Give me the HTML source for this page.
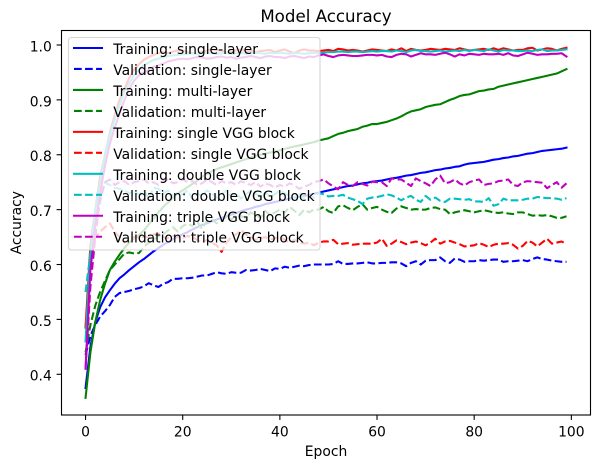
<!DOCTYPE html>
<html lang="en">
<head>
<meta charset="utf-8">
<title>Model Accuracy</title>
<style>
html,body{margin:0;padding:0;background:#fff;width:601px;height:468px;overflow:hidden}
svg{display:block;font-family:"DejaVu Sans","Liberation Sans",sans-serif;fill:#000}
</style>
</head>
<body>
<svg id="chart" xmlns="http://www.w3.org/2000/svg" width="601" height="468" viewBox="0 0 601 468">
  <text x="326" y="22" font-size="16.67" text-anchor="middle">Model Accuracy</text>
  <text x="326" y="456" font-size="13.89" text-anchor="middle">Epoch</text>
  <text transform="translate(21 222.7) rotate(-90)" font-size="13.89" text-anchor="middle">Accuracy</text>
  <g id="ticks"></g>
  <g id="series"></g>
  <rect x="61.5" y="30.5" width="529" height="384.5" fill="none" stroke="#000" stroke-width="1.1"></rect>
  <g id="legend"></g>
</svg>
<script>
const xTicks = [0, 20, 40, 60, 80, 100];
const yTicks = [0.4, 0.5, 0.6, 0.7, 0.8, 0.9, 1.0];

const trainSingle = [
.375,.45,.495,.522,.54,.553,.565,.575,.582,.59,
.597,.604,.61,.617,.624,.63,.636,.641,.646,.651,
.655,.659,.664,.668,.672,.675,.679,.682,.685,.688,
.691,.694,.697,.7,.702,.705,.707,.71,.712,.714,
.716,.718,.72,.722,.724,.725,.727,.729,.731,.733,
.735,.737,.739,.741,.743,.744,.746,.748,.749,.751,
.752,.753,.755,.757,.758,.76,.762,.763,.765,.767,
.768,.77,.772,.773,.775,.776,.778,.779,.782,.784,
.785,.786,.787,.789,.791,.792,.794,.795,.797,.798,
.8,.802,.803,.805,.807,.808,.809,.81,.811,.813];
const valSingle = [
.435,.47,.49,.505,.515,.526,.541,.548,.55,.552,
.555,.557,.56,.566,.562,.559,.565,.568,.574,.574,
.575,.575,.576,.578,.58,.58,.583,.586,.584,.583,
.586,.585,.585,.59,.589,.59,.592,.59,.588,.593,
.592,.596,.594,.596,.598,.597,.599,.6,.6,.6,
.6,.601,.606,.601,.601,.602,.602,.603,.604,.602,
.602,.603,.603,.604,.604,.602,.597,.603,.606,.6,
.607,.608,.608,.613,.606,.603,.611,.609,.605,.606,
.606,.608,.607,.608,.609,.609,.605,.606,.606,.607,
.608,.606,.61,.613,.61,.609,.607,.606,.605,.605];
const trainMulti = [
.357,.44,.495,.535,.565,.59,.605,.618,.63,.64,
.648,.654,.662,.673,.684,.695,.705,.713,.722,.73,
.735,.741,.747,.753,.76,.765,.77,.774,.777,.78,
.783,.786,.789,.792,.795,.798,.8,.802,.804,.806,
.808,.811,.813,.815,.817,.819,.821,.823,.826,.828,
.83,.834,.838,.84,.843,.845,.847,.851,.853,.856,
.856,.858,.86,.863,.866,.87,.875,.879,.881,.883,
.887,.889,.891,.892,.896,.9,.903,.907,.909,.91,
.913,.916,.917,.919,.92,.924,.926,.928,.93,.932,
.934,.936,.938,.94,.942,.944,.946,.948,.952,.956];
const valMulti = [
.44,.49,.525,.55,.57,.59,.6,.61,.62,.622,
.62,.621,.632,.64,.645,.652,.655,.662,.668,.66,
.67,.675,.67,.678,.665,.68,.682,.675,.68,.687,
.682,.69,.688,.685,.695,.69,.685,.698,.69,.695,
.7,.695,.705,.698,.69,.7,.695,.7,.7,.705,
.697,.694,.706,.708,.703,.699,.705,.71,.7,.703,
.705,.7,.696,.694,.702,.706,.703,.7,.701,.7,
.7,.703,.704,.701,.7,.692,.695,.697,.699,.697,
.695,.697,.699,.697,.695,.694,.695,.693,.692,.695,
.695,.692,.689,.69,.689,.69,.688,.685,.685,.688];
const trainVgg1 = [
.485,.635,.7,.76,.8,.84,.872,.9,.92,.94,
.955,.965,.973,.978,.982,.985,.987,.985,.988,.99,
.99,.987,.985,.984,.988,.99,.992,.99,.99,.986,
.988,.99,.992,.988,.99,.987,.989,.99,.991,.987,
.99,.992,.988,.985,.99,.992,.99,.99,.989,.99,
.991,.989,.993,.992,.99,.991,.99,.988,.99,.992,
.991,.99,.989,.992,.99,.994,.989,.993,.991,.99,
.991,.993,.992,.991,.993,.992,.991,.994,.992,.99,
.991,.992,.993,.991,.994,.991,.994,.992,.99,.991,
.991,.994,.995,.99,.992,.994,.993,.99,.993,.995];
const valVgg1 = [
.485,.6,.65,.66,.668,.675,.66,.65,.64,.645,
.65,.65,.65,.65,.655,.657,.65,.648,.652,.65,
.648,.652,.65,.645,.64,.645,.64,.635,.623,.64,
.65,.655,.663,.655,.65,.645,.648,.65,.645,.648,
.65,.645,.64,.645,.64,.638,.64,.635,.64,.642,
.642,.645,.637,.638,.639,.636,.637,.638,.638,.638,
.64,.647,.634,.638,.644,.641,.637,.64,.642,.639,
.635,.64,.647,.638,.642,.643,.64,.637,.633,.634,
.635,.639,.636,.632,.636,.638,.638,.639,.636,.629,
.634,.643,.64,.633,.64,.647,.638,.64,.642,.637];
const trainVgg2 = [
.46,.62,.7,.75,.8,.835,.865,.89,.915,.93,
.945,.955,.963,.968,.973,.975,.978,.98,.981,.982,
.983,.984,.985,.984,.985,.986,.985,.984,.985,.986,
.984,.985,.986,.984,.985,.986,.985,.984,.986,.985,
.986,.985,.984,.986,.985,.984,.985,.986,.985,.986,
.987,.987,.988,.988,.987,.988,.988,.987,.988,.989,
.988,.989,.989,.988,.99,.989,.987,.99,.991,.989,
.989,.988,.989,.99,.988,.989,.99,.989,.991,.989,
.991,.99,.989,.992,.99,.988,.991,.99,.99,.989,
.989,.99,.989,.991,.992,.989,.99,.99,.991,.992];
const valVgg2 = [
.55,.62,.68,.714,.749,.745,.74,.738,.735,.73,
.733,.728,.735,.72,.74,.738,.73,.735,.725,.73,
.728,.735,.72,.73,.725,.735,.73,.722,.728,.735,
.725,.73,.72,.728,.735,.73,.722,.73,.725,.728,
.735,.73,.725,.72,.73,.72,.725,.722,.73,.728,
.724,.725,.725,.727,.722,.719,.716,.71,.72,.722,
.723,.725,.728,.726,.722,.717,.722,.725,.718,.714,
.725,.718,.722,.716,.714,.72,.72,.719,.718,.719,
.715,.715,.714,.721,.707,.71,.72,.717,.717,.717,
.718,.72,.72,.723,.722,.721,.721,.72,.718,.721];
const trainVgg3 = [
.41,.59,.67,.73,.78,.82,.85,.875,.9,.92,
.935,.945,.95,.955,.96,.963,.966,.97,.972,.974,
.975,.974,.976,.978,.977,.975,.976,.978,.979,.977,
.978,.975,.977,.978,.98,.978,.976,.979,.98,.978,
.978,.976,.979,.98,.978,.976,.979,.978,.981,.983,
.98,.978,.981,.982,.981,.98,.98,.981,.982,.982,
.981,.982,.979,.978,.982,.984,.983,.979,.982,.985,
.983,.983,.982,.984,.986,.983,.979,.983,.981,.984,
.983,.982,.984,.983,.983,.984,.982,.985,.981,.98,
.983,.986,.984,.982,.983,.983,.984,.984,.985,.979];
const valVgg3 = [
.41,.56,.65,.72,.75,.755,.745,.75,.752,.745,
.75,.752,.755,.748,.75,.745,.752,.755,.748,.75,
.755,.75,.752,.745,.748,.755,.75,.745,.752,.748,
.75,.745,.752,.748,.745,.75,.742,.748,.745,.74,
.745,.742,.748,.744,.738,.742,.745,.75,.752,.755,
.748,.742,.737,.75,.745,.743,.75,.747,.744,.751,
.75,.75,.743,.757,.755,.755,.749,.743,.757,.752,
.748,.743,.755,.762,.748,.75,.755,.748,.744,.75,
.753,.755,.745,.747,.748,.752,.753,.755,.745,.743,
.75,.752,.751,.75,.749,.739,.745,.75,.74,.748];

const seriesLabels = [
  "Training: single-layer","Validation: single-layer",
  "Training: multi-layer","Validation: multi-layer",
  "Training: single VGG block","Validation: single VGG block",
  "Training: double VGG block","Validation: double VGG block",
  "Training: triple VGG block","Validation: triple VGG block"];
const seriesValues = [trainSingle,valSingle,trainMulti,valMulti,trainVgg1,valVgg1,trainVgg2,valVgg2,trainVgg3,valVgg3];
const seriesColors = ["#0000ff","#0000ff","#008000","#008000","#ff0000","#ff0000","#00bfbf","#00bfbf","#bf00bf","#bf00bf"];

function xScale(v){ return 85.55 + v * 4.858; }
function yScale(v){ return 45 + (1 - v) * 548.8; }

const NS = "http://www.w3.org/2000/svg";
function make(tag, parent, props){
  const el = document.createElementNS(NS, tag);
  for (const k in props) el.setAttribute(k, props[k]);
  parent.appendChild(el);
  return el;
}
function slug(s){ return s.toLowerCase().replace(/[^a-z0-9]+/g, "-"); }

const tickGroup = document.getElementById("ticks");
xTicks.forEach(function(t){
  const x = xScale(t);
  const mark = make("line", tickGroup, {x1:x, x2:x, y1:415, y2:419.9, stroke:"#000", "stroke-width":1.1});
  
  
  const label = make("text", tickGroup, {x:x, y:436.6, "font-size":13.89, "text-anchor":"middle"});
  label.textContent = String(t);
  
  
});
yTicks.forEach(function(t){
  const y = yScale(t);
  const mark = make("line", tickGroup, {x1:56.6, x2:61.5, y1:y, y2:y, stroke:"#000", "stroke-width":1.1});
  
  
  const label = make("text", tickGroup, {x:51.8, y:y + 6.4, "font-size":13.89, "text-anchor":"end"});
  label.textContent = t.toFixed(1);
  
  
});

const seriesGroup = document.getElementById("series");
seriesValues.forEach(function(vals, i){
  const d = vals.map(function(v, e){
    return (e ? "L" : "M") + xScale(e).toFixed(2) + " " + yScale(v).toFixed(2);
  }).join("");
  const path = make("path", seriesGroup, {d:d, fill:"none", stroke:seriesColors[i], "stroke-width":2.08, "stroke-linejoin":"round"});
  if (i % 2) path.setAttribute("stroke-dasharray", "7.7 3.33");
  else path.setAttribute("stroke-linecap", "square");
  
  
});

const legendGroup = document.getElementById("legend");
const legendBox = make("rect", legendGroup, {x:68.5, y:37.5, width:251.5, height:212.5, rx:2.8, fill:"#fff", "fill-opacity":0.8, stroke:"#ccc", "stroke-opacity":0.8, "stroke-width":1.1});


seriesLabels.forEach(function(lab, i){
  const y = 48 + i * 20.97;
  const handle = make("line", legendGroup, {x1:74, x2:102, y1:y, y2:y, stroke:seriesColors[i], "stroke-width":2.08});
  if (i % 2) handle.setAttribute("stroke-dasharray", "7.7 3.33");
  else handle.setAttribute("stroke-linecap", "square");
  
  
  const text = make("text", legendGroup, {x:113.2, y:y + 6, "font-size":13.89});
  text.textContent = lab;
  
  
});
</script>
</body>
</html>
